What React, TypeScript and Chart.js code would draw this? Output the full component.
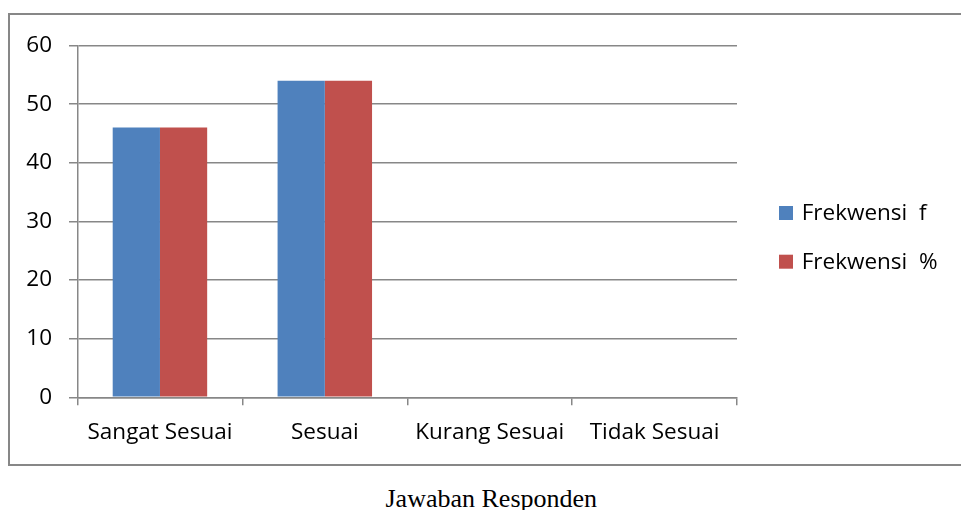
import React, { useEffect, useRef } from "react";
import { Chart, registerables } from "chart.js";

Chart.register(...registerables);

const categories = ["Sangat Sesuai", "Sesuai", "Kurang Sesuai", "Tidak Sesuai"];
const seriesF = [46, 54, 0, 0];
const seriesPct = [46, 54, 0, 0];
const seriesLabels = ["Frekwensi  f", "Frekwensi  %"];
const seriesColors = ["#4F81BD", "#C0504D"];
const yTicks = [0, 10, 20, 30, 40, 50, 60];
const axisTitle = "Jawaban Responden";

const FONT = "'Open Sans', Lato, sans-serif";
const FSIZE = 22.5;
const GRID = "#878787";

export default function App() {
  const ref = useRef<HTMLCanvasElement | null>(null);

  useEffect(() => {
    document.body.style.marginBottom = "0px";
    document.body.style.marginRight = "0px";
    if (!ref.current) return;
    const legendPlugin = {
      id: "customLegend",
      afterDraw(chart: any) {
        const ctx = chart.ctx;
        ctx.save();
        ctx.font = `${FSIZE}px ${FONT}`;
        ctx.textBaseline = "middle";
        const ys = [198, 246.7];
        chart.data.datasets.forEach((ds: any, i: number) => {
          ctx.fillStyle = ds.backgroundColor;
          ctx.fillRect(769, ys[i] - 7, 14, 14);
          ctx.fillStyle = "#000";
          ctx.fillText(ds.label, 791.7, ys[i] + 1);
        });
        ctx.restore();
      },
    };
    const chart = new Chart(ref.current, {
      type: "bar",
      data: {
        labels: categories,
        datasets: [
          { label: seriesLabels[0], data: seriesF, backgroundColor: seriesColors[0], barPercentage: 1, categoryPercentage: 0.573 },
          { label: seriesLabels[1], data: seriesPct, backgroundColor: seriesColors[1], barPercentage: 1, categoryPercentage: 0.573 },
        ],
      },
      options: {
        animation: false,
        responsive: false,
        maintainAspectRatio: false,
        layout: { padding: { left: 0, top: 27.7, right: 224, bottom: 0 } },
        plugins: { legend: { display: false }, tooltip: { enabled: false }, title: { display: false } },
        scales: {
          x: {
            grid: { display: true, drawOnChartArea: false, drawTicks: true, tickLength: 8, color: GRID, lineWidth: 1.5, offset: true },
            border: { display: true, color: GRID, width: 1.5 },
            ticks: { color: "#000", font: { family: FONT, size: FSIZE }, padding: 14, maxRotation: 0, autoSkip: false },
            afterFit(scale: any) { scale.height = 66.7; },
          },
          y: {
            min: 0,
            max: 60,
            afterBuildTicks(scale: any) { scale.ticks = yTicks.map((v) => ({ value: v })); },
            grid: { display: true, drawOnChartArea: true, drawTicks: true, tickLength: 8.5, color: GRID, lineWidth: 1.5 },
            border: { display: true, color: GRID, width: 1.5 },
            ticks: { color: "#000", font: { family: FONT, size: FSIZE }, padding: 17, stepSize: 10 },
            afterFit(scale: any) { scale.width = 67.5; },
          },
        },
      },
      plugins: [legendPlugin],
    });
    return () => chart.destroy();
  }, []);

  return (
    <div style={{ position: "relative", width: 953, height: 502, overflow: "hidden" }}>
      <div
        style={{
          position: "absolute",
          left: 0,
          top: 5,
          width: 951,
          height: 449,
          borderLeft: `2px solid ${GRID}`,
          borderTop: `2px solid ${GRID}`,
          borderBottom: `2px solid ${GRID}`,
        }}
      >
        <canvas ref={ref} width={951} height={449} style={{ display: "block", width: 951, height: 449 }} />
      </div>
      <div
        style={{
          position: "absolute",
          left: 377.5,
          top: 476,
          fontFamily: "'Liberation Serif', 'Times New Roman', serif",
          fontSize: 26,
          lineHeight: "30px",
          color: "#000",
          whiteSpace: "nowrap",
        }}
      >
        {axisTitle}
      </div>
    </div>
  );
}
